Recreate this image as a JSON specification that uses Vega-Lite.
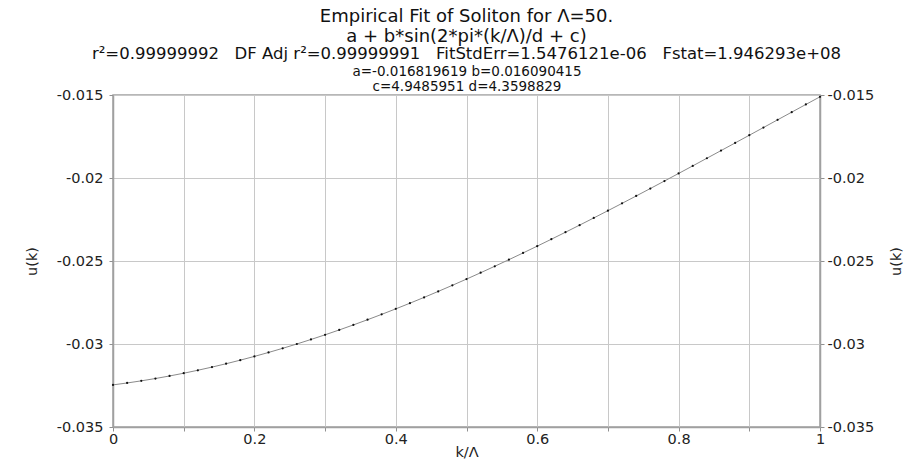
{
  "$schema": "https://vega.github.io/schema/vega-lite/v6.json",
  "width": 707,
  "height": 332,
  "autosize": {"type": "none"},
  "padding": {"left": 113, "top": 95, "right": 93, "bottom": 43},
  "background": "white",
  "title": {
    "text": ["Empirical Fit of Soliton for Λ=50.", "a + b*sin(2*pi*(k/Λ)/d + c)"],
    "subtitle": "r²=0.99999992 \u00a0\u00a0DF Adj r²=0.99999991 \u00a0\u00a0FitStdErr=1.5476121e-06 \u00a0\u00a0Fstat=1.946293e+08",
    "anchor": "middle",
    "font": "DejaVu Sans",
    "fontSize": 18,
    "fontWeight": "normal",
    "lineHeight": 20,
    "color": "#111",
    "subtitleFont": "DejaVu Sans",
    "subtitleFontSize": 16.5,
    "subtitleLineHeight": 17,
    "subtitleColor": "#111",
    "subtitlePadding": 0,
    "offset": 2
  },
  "data": {
    "values": [
      {"x": 0, "u": -0.0324632}, {"x": 0.02, "u": -0.0323482}, {"x": 0.04, "u": -0.0322203},
      {"x": 0.06, "u": -0.0320796}, {"x": 0.08, "u": -0.0319262}, {"x": 0.10, "u": -0.0317603},
      {"x": 0.12, "u": -0.0315819}, {"x": 0.14, "u": -0.0313913}, {"x": 0.16, "u": -0.0311886},
      {"x": 0.18, "u": -0.0309740}, {"x": 0.20, "u": -0.0307476}, {"x": 0.22, "u": -0.0305096},
      {"x": 0.24, "u": -0.0302602}, {"x": 0.26, "u": -0.0299997}, {"x": 0.28, "u": -0.0297283},
      {"x": 0.30, "u": -0.0294461}, {"x": 0.32, "u": -0.0291534}, {"x": 0.34, "u": -0.0288505},
      {"x": 0.36, "u": -0.0285376}, {"x": 0.38, "u": -0.0282150}, {"x": 0.40, "u": -0.0278828},
      {"x": 0.42, "u": -0.0275415}, {"x": 0.44, "u": -0.0271913}, {"x": 0.46, "u": -0.0268325},
      {"x": 0.48, "u": -0.0264654}, {"x": 0.50, "u": -0.0260902}, {"x": 0.52, "u": -0.0257073},
      {"x": 0.54, "u": -0.0253171}, {"x": 0.56, "u": -0.0249198}, {"x": 0.58, "u": -0.0245158},
      {"x": 0.60, "u": -0.0241054}, {"x": 0.62, "u": -0.0236889}, {"x": 0.64, "u": -0.0232667},
      {"x": 0.66, "u": -0.0228392}, {"x": 0.68, "u": -0.0224066}, {"x": 0.70, "u": -0.0219695},
      {"x": 0.72, "u": -0.0215280}, {"x": 0.74, "u": -0.0210827}, {"x": 0.76, "u": -0.0206338},
      {"x": 0.78, "u": -0.0201817}, {"x": 0.80, "u": -0.0197268}, {"x": 0.82, "u": -0.0192696},
      {"x": 0.84, "u": -0.0188102}, {"x": 0.86, "u": -0.0183492}, {"x": 0.88, "u": -0.0178870},
      {"x": 0.90, "u": -0.0174239}, {"x": 0.92, "u": -0.0169603}, {"x": 0.94, "u": -0.0164965},
      {"x": 0.96, "u": -0.0160331}, {"x": 0.98, "u": -0.0155702}, {"x": 1.00, "u": -0.0151085}
    ]
  },
  "layer": [
    {
      "mark": {"type": "line", "color": "#8a8a8a", "strokeWidth": 1},
      "encoding": {
        "x": {
          "field": "x",
          "type": "quantitative",
          "scale": {"domain": [0, 1], "nice": false, "zero": false},
          "axis": {
            "orient": "bottom",
            "title": "k/Λ",
            "values": [0, 0.1, 0.2, 0.3, 0.4, 0.5, 0.6, 0.7, 0.8, 0.9, 1],
            "labelExpr": "round(datum.value*10) % 2 == 0 ? format(datum.value, '.1~f') : ''",
            "grid": true,
            "labelFlush": false,
            "labelOverlap": false,
            "labelPadding": 1,
            "titlePadding": 0
          }
        },
        "y": {
          "field": "u",
          "type": "quantitative",
          "scale": {"domain": [-0.035, -0.015], "nice": false, "zero": false},
          "axis": {
            "orient": "left",
            "title": "u(k)",
            "values": [-0.035, -0.03, -0.025, -0.02, -0.015],
            "labelExpr": "replace(format(datum.value, '.3~f'), '−', '-')",
            "grid": true,
            "labelPadding": 6,
            "titlePadding": 17
          }
        }
      }
    },
    {
      "mark": {"type": "point", "filled": true, "color": "#111", "size": 5, "opacity": 1},
      "encoding": {
        "x": {
          "field": "x",
          "type": "quantitative",
          "scale": {"domain": [0, 1], "nice": false, "zero": false},
          "axis": {
            "orient": "top",
            "title": ["a=-0.016819619 b=0.016090415", "c=4.9485951 d=4.3598829"],
            "titleFontSize": 13.5,
            "titleLineHeight": 14.5,
            "titleColor": "#111",
            "labels": false,
            "ticks": false,
            "domain": false,
            "grid": false,
            "titlePadding": 2
          }
        },
        "y": {
          "field": "u",
          "type": "quantitative",
          "scale": {"domain": [-0.035, -0.015], "nice": false, "zero": false},
          "axis": {
            "orient": "right",
            "title": "u(k)",
            "titleAngle": 270,
            "values": [-0.035, -0.03, -0.025, -0.02, -0.015],
            "labelExpr": "replace(format(datum.value, '.3~f'), '−', '-')",
            "grid": false,
            "labelPadding": 3,
            "titlePadding": 30
          }
        }
      }
    }
  ],
  "resolve": {"axis": {"y": "independent", "x": "independent"}},
  "config": {
    "view": {"stroke": "#a0a0a0", "strokeWidth": 1.5},
    "axis": {
      "labelFont": "DejaVu Sans",
      "labelFontSize": 14.5,
      "labelColor": "#222",
      "titleFont": "DejaVu Sans",
      "titleFontSize": 14.5,
      "titleFontWeight": "normal",
      "titleColor": "#222",
      "gridColor": "#c8c8c8",
      "gridWidth": 1,
      "gridOpacity": 1,
      "domainColor": "#a0a0a0",
      "domainWidth": 1.5,
      "tickColor": "#909090",
      "tickSize": 4,
      "labelFlush": false
    }
  }
}
